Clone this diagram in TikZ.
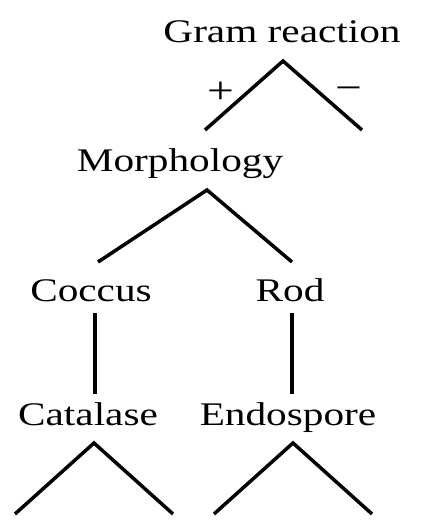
\documentclass[tikz,border=0pt]{standalone}
\usepackage{fontspec}
\setmainfont{Liberation Serif}[FakeStretch=1.25]
\begin{document}
\begin{tikzpicture}[x=1pt,y=-1pt,
  lbl/.style={font=\fontsize{33}{38}\selectfont, inner sep=0pt, anchor=base},
  sgn/.style={font=\fontsize{38}{42}\selectfont, inner sep=0pt, anchor=base},
  br/.style={line width=3.5pt, line cap=butt, line join=miter}]
\useasboundingbox (0,0) rectangle (422,527);
\fill[white] (0,0) rectangle (422,527);
% labels
\node[lbl] (gram) at (282,43) {Gram reaction};
\node[lbl] (morph) at (180,171) {Morphology};
\node[lbl] (coccus) at (91,301) {Coccus};
\node[lbl] (rod) at (290,301) {Rod};
\node[lbl] (cat) at (88,425) {Catalase};
\node[lbl] (endo) at (288,425) {Endospore};
\node[sgn] (plus) at (221,103) {+};
\node[sgn] (minus) at (349,100) {−};
% wedge points
\coordinate (g-a) at (283,61);
\coordinate (g-l) at (205,130);
\coordinate (g-r) at (362,130);
\coordinate (m-a) at (207,190);
\coordinate (m-l) at (98,262);
\coordinate (m-r) at (292,262);
\coordinate (c-t) at (95,313);
\coordinate (c-b) at (95,394);
\coordinate (r-t) at (292,313);
\coordinate (r-b) at (292,394);
\coordinate (ca-a) at (94,443);
\coordinate (ca-l) at (15,514);
\coordinate (ca-r) at (173,514);
\coordinate (e-a) at (293,443);
\coordinate (e-l) at (214,514);
\coordinate (e-r) at (372,514);
% branches
\draw[br] (g-l) -- (g-a) -- (g-r);
\draw[br] (m-l) -- (m-a) -- (m-r);
\draw[br] (c-t) -- (c-b);
\draw[br] (r-t) -- (r-b);
\draw[br] (ca-l) -- (ca-a) -- (ca-r);
\draw[br] (e-l) -- (e-a) -- (e-r);
\end{tikzpicture}
\end{document}
